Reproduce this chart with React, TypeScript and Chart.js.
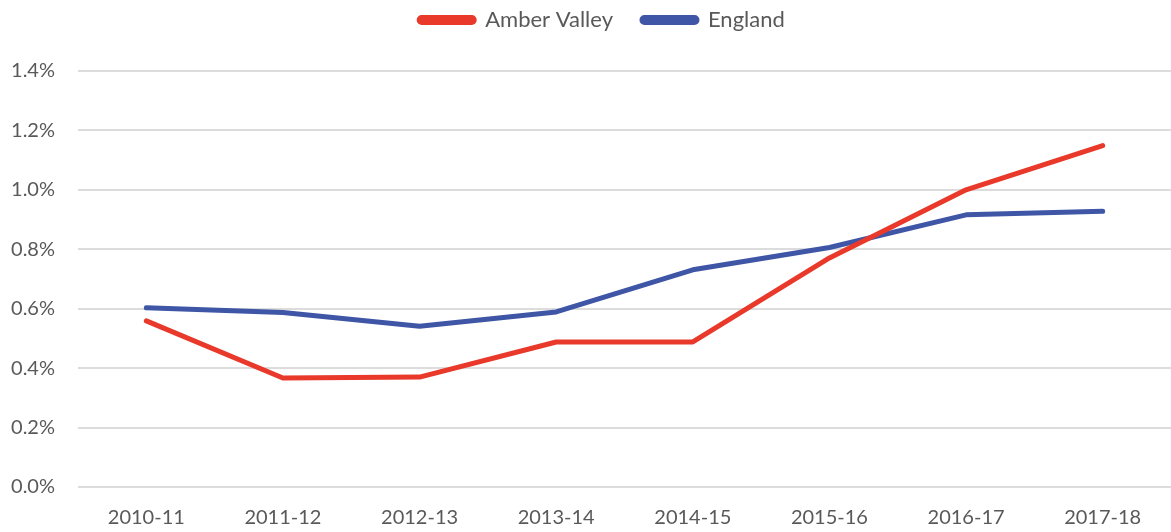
import React, { useEffect, useRef } from "react";
import { Chart, registerables } from "chart.js";

Chart.register(...registerables);

const categories = ["2010-11", "2011-12", "2012-13", "2013-14", "2014-15", "2015-16", "2016-17", "2017-18"];
const amberValley = [0.559, 0.367, 0.37, 0.488, 0.488, 0.771, 1.0, 1.149];
const england = [0.603, 0.587, 0.541, 0.589, 0.731, 0.806, 0.916, 0.928];
const yTicks = [0, 0.2, 0.4, 0.6, 0.8, 1.0, 1.2, 1.4];

const FONT = "Lato, 'Open Sans', sans-serif";
const TEXT = "#595959";

const legendTweak = {
  id: "legendTweak",
  beforeInit(chart: any) {
    const legend = chart.legend;
    if (!legend) return;
    const origFit = legend.fit;
    legend.fit = function () {
      origFit.call(this);
      this.height += 30;
    };
    const origDraw = legend.draw;
    legend.draw = function () {
      const c = this.ctx;
      c.save();
      c.translate(10, 0);
      origDraw.call(this);
      c.restore();
    };
  },
};

export default function App() {
  const ref = useRef<HTMLCanvasElement | null>(null);
  useEffect(() => {
    document.body.style.margin = "0";
    const ctx = ref.current!;
    const chart = new Chart(ctx, {
      type: "line",
      data: {
        labels: categories,
        datasets: [
          {
            label: "Amber Valley",
            data: amberValley,
            borderColor: "#e8392b",
            backgroundColor: "#e8392b",
            borderWidth: 5,
            pointRadius: 0,
            borderCapStyle: "round",
            borderJoinStyle: "round",
            tension: 0,
          },
          {
            label: "England",
            data: england,
            borderColor: "#3f56a6",
            backgroundColor: "#3f56a6",
            borderWidth: 5,
            pointRadius: 0,
            borderCapStyle: "round",
            borderJoinStyle: "round",
            tension: 0,
          },
        ],
      },
      plugins: [legendTweak],
      options: {
        animation: false,
        responsive: false,
        maintainAspectRatio: false,
        layout: { padding: { top: -20, left: 9, right: -4, bottom: 3 } },
        plugins: {
          legend: {
            position: "top",
            labels: {
              boxWidth: 55,
              boxHeight: 5,
              useBorderRadius: true,
              borderRadius: 2.5,
              padding: 29,
              color: TEXT,
              font: { family: FONT, size: 22 },
            },
          },
          tooltip: { enabled: false },
        },
        scales: {
          x: {
            type: "category",
            offset: true,
            grid: { display: false },
            border: { display: false },
            ticks: { color: TEXT, font: { family: FONT, size: 20 }, padding: 11, maxRotation: 0 },
            afterFit: (s: any) => {
              s.height = 42;
              s.paddingLeft = 0;
              s.paddingRight = 0;
            },
          },
          y: {
            min: 0,
            max: 1.4,
            afterBuildTicks: (scale: any) => {
              scale.ticks = yTicks.map((v) => ({ value: v }));
            },
            afterFit: (s: any) => {
              s.width = 69;
            },
            grid: { color: "#dcdcdc", lineWidth: 2, drawTicks: false },
            border: { display: false },
            ticks: {
              color: TEXT,
              font: { family: FONT, size: 20 },
              padding: 23,
              callback: (v: any) => Number(v).toFixed(1) + "%",
            },
          },
        },
      },
    });
    return () => chart.destroy();
  }, []);
  return (
    <div style={{ width: 1171, height: 532 }}>
      <canvas ref={ref} width={1171} height={532} style={{ display: "block", width: 1171, height: 532 }} />
    </div>
  );
}
